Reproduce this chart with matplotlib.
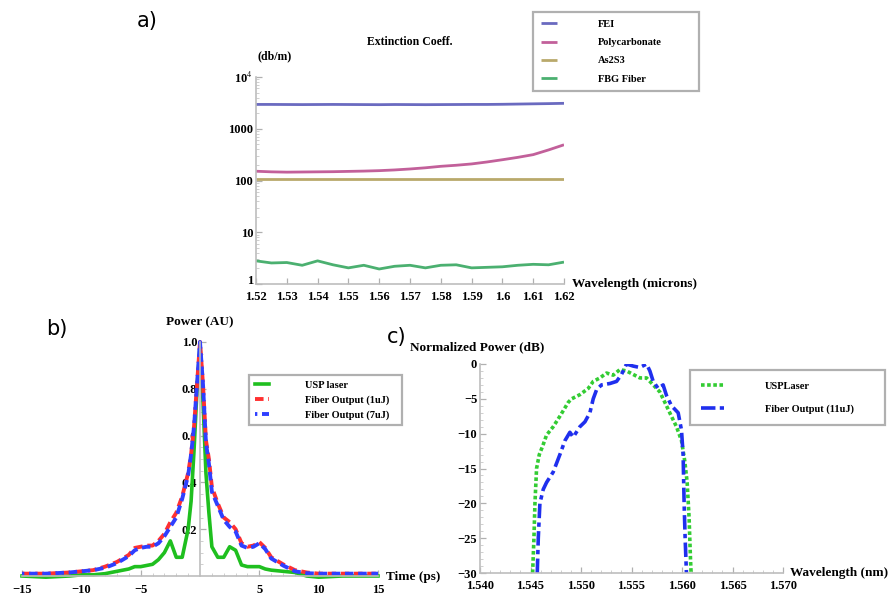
import matplotlib
matplotlib.use("Agg")
import matplotlib.pyplot as plt
from matplotlib.ticker import FixedLocator, NullFormatter
from matplotlib.transforms import ScaledTranslation
import numpy as np

plt.rcParams['font.family'] = ['Liberation Serif', 'DejaVu Serif']
plt.rcParams['mathtext.fontset'] = 'stix'

# ---------------- Panel a data ----------------
wl_a = [1.520, 1.525, 1.530, 1.535, 1.540, 1.545, 1.550, 1.555, 1.560, 1.565, 1.570,
        1.575, 1.580, 1.585, 1.590, 1.595, 1.600, 1.605, 1.610, 1.615, 1.620]
fei = [2950, 2950, 2940, 2930, 2940, 2950, 2940, 2930, 2920, 2940, 2930,
       2920, 2930, 2940, 2950, 2950, 2970, 3000, 3030, 3060, 3100]
polycarb = [151, 147, 145, 146, 147, 148, 150, 152, 155, 160, 167,
            176, 188, 197, 209, 228, 252, 280, 316, 390, 490]
as2s3 = [106, 106, 106, 106, 106, 106, 106, 106, 106, 106, 106,
         106, 106, 106, 106, 106, 106, 106, 106, 106, 106]
fbg = [2.8, 2.55, 2.6, 2.3, 2.8, 2.35, 2.05, 2.3, 1.95, 2.2, 2.3,
       2.05, 2.3, 2.35, 2.05, 2.1, 2.15, 2.3, 2.4, 2.35, 2.65]
labels_a = ["FEI", "Polycarbonate", "As2S3", "FBG Fiber"]
colors_a = ["#6a6ac0", "#c2609a", "#b9a96b", "#4bb070"]

# ---------------- Panel b data ----------------
t_b = [-15, -13, -11, -10, -9, -8, -7, -6, -5.5, -5, -4.5, -4, -3.5, -3, -2.5, -2, -1.5, -1,
       -0.75, -0.5, -0.25, 0, 0.25, 0.5, 0.75, 1, 1.5, 2, 2.5, 3, 3.5, 4, 4.5, 5, 5.5, 6,
       7, 8, 9, 10, 12, 15]
usp_b = [0.0, -0.005, 0.0, 0.005, 0.005, 0.01, 0.02, 0.03, 0.04, 0.04, 0.045, 0.05, 0.07, 0.1,
         0.15, 0.08, 0.08, 0.2, 0.32, 0.54, 0.8, 0.99, 0.75, 0.44, 0.27, 0.125, 0.08, 0.08,
         0.125, 0.11, 0.047, 0.04, 0.04, 0.04, 0.03, 0.025, 0.02, 0.015, 0.0, -0.005, 0.0, 0.0]
fiber1_b = [0.01, 0.01, 0.015, 0.02, 0.025, 0.04, 0.06, 0.09, 0.12, 0.125, 0.13, 0.13, 0.15,
            0.18, 0.23, 0.27, 0.34, 0.44, 0.52, 0.64, 0.82, 1.0, 0.82, 0.58, 0.5, 0.38, 0.31,
            0.25, 0.23, 0.2, 0.14, 0.125, 0.13, 0.145, 0.12, 0.08, 0.05, 0.025, 0.015, 0.01,
            0.01, 0.01]
fiber7_b = [0.01, 0.01, 0.015, 0.02, 0.025, 0.035, 0.055, 0.085, 0.11, 0.12, 0.125, 0.125, 0.14,
            0.17, 0.21, 0.25, 0.33, 0.43, 0.52, 0.64, 0.82, 1.0, 0.82, 0.57, 0.48, 0.36, 0.3,
            0.24, 0.21, 0.19, 0.13, 0.12, 0.125, 0.14, 0.115, 0.075, 0.045, 0.02, 0.012, 0.01,
            0.01, 0.01]
labels_b = ["USP laser", "Fiber Output (1uJ)", "Fiber Output (7uJ)"]

# ---------------- Panel c data ----------------
wl_usp_c = [1.54521, 1.54534, 1.54544, 1.5456, 1.54587, 1.5462, 1.54659, 1.54725, 1.54791,
            1.54874, 1.54907, 1.54989, 1.55072, 1.55121, 1.55187, 1.55253, 1.55319, 1.55385,
            1.55451, 1.55517, 1.55583, 1.55649, 1.55715, 1.5578, 1.5583, 1.55879, 1.55945,
            1.55995, 1.56028, 1.56051, 1.5607, 1.56084, 1.5609]
usp_c = [-30, -25, -20, -15, -13, -11.8, -10.2, -9, -7.5, -5.5, -5, -4.4, -3.5, -2.5, -2, -1.3,
         -1.6, -0.8, -1.0, -1.5, -2, -2, -3, -4, -5.5, -7, -9, -11, -14, -17, -22, -28, -30]
wl_fib_c = [1.54567, 1.54577, 1.54593, 1.54626, 1.54659, 1.54725, 1.54791, 1.54841, 1.5489,
            1.54923, 1.54989, 1.55039, 1.55088, 1.55121, 1.55154, 1.55203, 1.55286, 1.55352,
            1.55401, 1.55451, 1.55517, 1.55583, 1.55649, 1.55682, 1.55715, 1.55764, 1.55813,
            1.55846, 1.55896, 1.55962, 1.55995, 1.56011, 1.56021, 1.56031, 1.56044]
fib_c = [-30, -25, -20, -18, -17, -15.5, -13, -11, -9.8, -10.5, -9, -8.3, -7, -5, -3.7, -3,
         -2.8, -2.5, -1.5, 0, -0.3, -0.5, 0, -1, -2.5, -3.5, -3, -4.5, -6, -7, -9.5, -13, -20,
         -25, -30]
labels_c = ["USPLaser", "Fiber Output (11uJ)"]

W, H = 896, 598
fig = plt.figure(figsize=(W / 100, H / 100), dpi=100)

def rect(x0, y0, x1, y1):
    return [x0 / W, 1 - y1 / H, (x1 - x0) / W, (y1 - y0) / H]

def fbox(x0, y0, x1, y1):
    return (x0 / W, 1 - y1 / H, (x1 - x0) / W, (y1 - y0) / H)

AX_GRAY = "#bdbdbd"
TICK_FS = 9
LAB_FS = 9.5

def style(ax):
    for s in ["top", "right"]:
        ax.spines[s].set_visible(False)
    for s in ["left", "bottom"]:
        ax.spines[s].set_color(AX_GRAY)
        ax.spines[s].set_linewidth(1.2)
    ax.tick_params(which="major", direction="in", length=4, width=0.9, color="#b0b0b0",
                   labelsize=TICK_FS, pad=2)
    ax.tick_params(which="minor", direction="in", length=2, width=0.6, color="#c8c8c8")
    for lab in ax.get_xticklabels() + ax.get_yticklabels():
        lab.set_fontweight("bold")
    ax.set_facecolor("none")

def leg_box(leg):
    fr = leg.get_frame()
    fr.set_edgecolor("#b0b0b0")
    fr.set_linewidth(1.6)
    fr.set_boxstyle("square", pad=0)
    for t in leg.get_texts():
        t.set_fontweight("bold")

# ---------------- Panel a ----------------
axa = fig.add_axes(rect(256, 77, 564, 284))
for y, lab, c in zip([fei, polycarb, as2s3, fbg], labels_a, colors_a):
    axa.plot(wl_a, y, color=c, lw=2.0, label=lab, solid_capstyle="butt")
axa.set_yscale("log")
axa.set_xlim(1.52, 1.62)
axa.set_ylim(1, 1e4)
axa.set_xticks([1.52, 1.53, 1.54, 1.55, 1.56, 1.57, 1.58, 1.59, 1.60, 1.61, 1.62])
axa.set_xticklabels(["1.52", "1.53", "1.54", "1.55", "1.56", "1.57", "1.58", "1.59", "1.6",
                     "1.61", "1.62"])
axa.set_yticks([1, 10, 100, 1000, 1e4])
axa.set_yticklabels(["1", "10", "100", "1000", r"10$^4$"])
axa.yaxis.set_minor_locator(FixedLocator([v * 10 ** k for k in range(4) for v in range(2, 10)]))
axa.yaxis.set_minor_formatter(NullFormatter())
axa.xaxis.set_minor_locator(FixedLocator([]))
style(axa)
axa.tick_params(axis="x", pad=5)
lab1 = axa.yaxis.get_major_ticks()[0].label1
lab1.set_transform(lab1.get_transform() + ScaledTranslation(0, 3 / 72, fig.dpi_scale_trans))
leg = axa.legend(loc="upper left", bbox_to_anchor=fbox(533, 12, 699, 88), bbox_transform=fig.transFigure,
                 mode="expand", borderaxespad=0,
                 prop={"family": "Liberation Serif", "size": 7.5}, handlelength=1.6,
                 handletextpad=3.9, labelspacing=0.85, borderpad=0.75, fancybox=False,
                 framealpha=1)
leg_box(leg)
fig.text(410 / W, 1 - 42 / H, "Extinction Coeff.", ha="center", va="center", fontsize=8.5,
         fontweight="bold")
fig.text(275 / W, 1 - 56 / H, "(db/m)", ha="center", va="center", fontsize=8.5, fontweight="bold")
fig.text(572 / W, 1 - 284 / H, "Wavelength (microns)", ha="left", va="center", fontsize=LAB_FS,
         fontweight="bold")
fig.text(147 / W, 1 - 21 / H, "a)", ha="center", va="center", fontsize=15, family="DejaVu Sans")

# ---------------- Panel b ----------------
axb = fig.add_axes(rect(22, 342, 378, 576))
axb.plot(t_b, usp_b, color="#1fbf1f", lw=2.6, label=labels_b[0], clip_on=False)
axb.plot(t_b, fiber1_b, color="#ff3030", lw=2.8, ls=(0, (2.2, 1.2)), label=labels_b[1], clip_on=False)
axb.plot(t_b, fiber7_b, color="#2f3fff", lw=2.8, ls=(1.6, (2.2, 1.2)), label=labels_b[2], clip_on=False)
axb.set_xlim(-15, 15)
axb.set_ylim(0, 1.0)
axb.spines["left"].set_position(("data", 0))
axb.set_xticks([-15, -10, -5, 5, 10, 15])
axb.set_xticklabels(["\u221215", "\u221210", "\u22125", "5", "10", "15"])
axb.set_yticks([0.2, 0.4, 0.6, 0.8, 1.0])
axb.set_yticklabels(["0.2", "0.4", "0.6", "0.8", "1.0"])
axb.xaxis.set_minor_locator(FixedLocator([v for v in range(-15, 16) if v % 5 != 0]))
axb.yaxis.set_minor_locator(FixedLocator([0.05 * k for k in range(1, 20) if k % 4 != 0]))
style(axb)
axb.tick_params(axis="x", pad=6)
leg = axb.legend(loc="upper left", bbox_to_anchor=fbox(249, 375, 402, 425), bbox_transform=fig.transFigure,
                 mode="expand", borderaxespad=0,
                 prop={"family": "Liberation Serif", "size": 7.5}, handlelength=1.4,
                 handletextpad=3.4, labelspacing=0.5, borderpad=0.55, fancybox=False,
                 framealpha=1)
leg_box(leg)
fig.text(200 / W, 1 - 322 / H, "Power (AU)", ha="center", va="center", fontsize=LAB_FS, fontweight="bold")
fig.text(386 / W, 1 - 577 / H, "Time (ps)", ha="left", va="center", fontsize=LAB_FS, fontweight="bold")
fig.text(57 / W, 1 - 329 / H, "b)", ha="center", va="center", fontsize=15, family="DejaVu Sans")

# ---------------- Panel c ----------------
axc = fig.add_axes(rect(480, 364, 783, 573))
axc.plot(wl_usp_c, usp_c, color="#33cc33", lw=2.6, ls=(0, (1.0, 0.7)), label=labels_c[0])
axc.plot(wl_fib_c, fib_c, color="#1f2fee", lw=2.6, ls=(0, (4, 1.2, 1.2, 1.2)), label=labels_c[1])
axc.set_xlim(1.540, 1.570)
axc.set_ylim(-30, 0)
axc.set_xticks([1.540, 1.545, 1.550, 1.555, 1.560, 1.565, 1.570])
axc.set_xticklabels(["1.540", "1.545", "1.550", "1.555", "1.560", "1.565", "1.570"])
axc.set_yticks([0, -5, -10, -15, -20, -25, -30])
axc.set_yticklabels(["0", "\u22125", "\u221210", "\u221215", "\u221220", "\u221225", "\u221230"])
axc.xaxis.set_minor_locator(FixedLocator([1.540 + 0.001 * k for k in range(31) if k % 5 != 0]))
axc.yaxis.set_minor_locator(FixedLocator([-k for k in range(31) if k % 5 != 0]))
style(axc)
axc.tick_params(axis="x", pad=5)
leg = axc.legend(loc="upper left", bbox_to_anchor=fbox(690, 370, 885, 425), bbox_transform=fig.transFigure,
                 mode="expand", borderaxespad=0,
                 prop={"family": "Liberation Serif", "size": 7.5}, handlelength=2.2,
                 handletextpad=3.9, labelspacing=1.3, borderpad=1.1, fancybox=False,
                 framealpha=1)
leg_box(leg)
fig.text(410 / W, 1 - 347 / H, "Normalized Power (dB)", ha="left", va="center", fontsize=LAB_FS,
         fontweight="bold")
fig.text(790 / W, 1 - 573 / H, "Wavelength (nm)", ha="left", va="center", fontsize=LAB_FS,
         fontweight="bold")
fig.text(397 / W, 1 - 337 / H, "c)", ha="center", va="center", fontsize=15, family="DejaVu Sans")

fig.savefig("out.png", dpi=100)
